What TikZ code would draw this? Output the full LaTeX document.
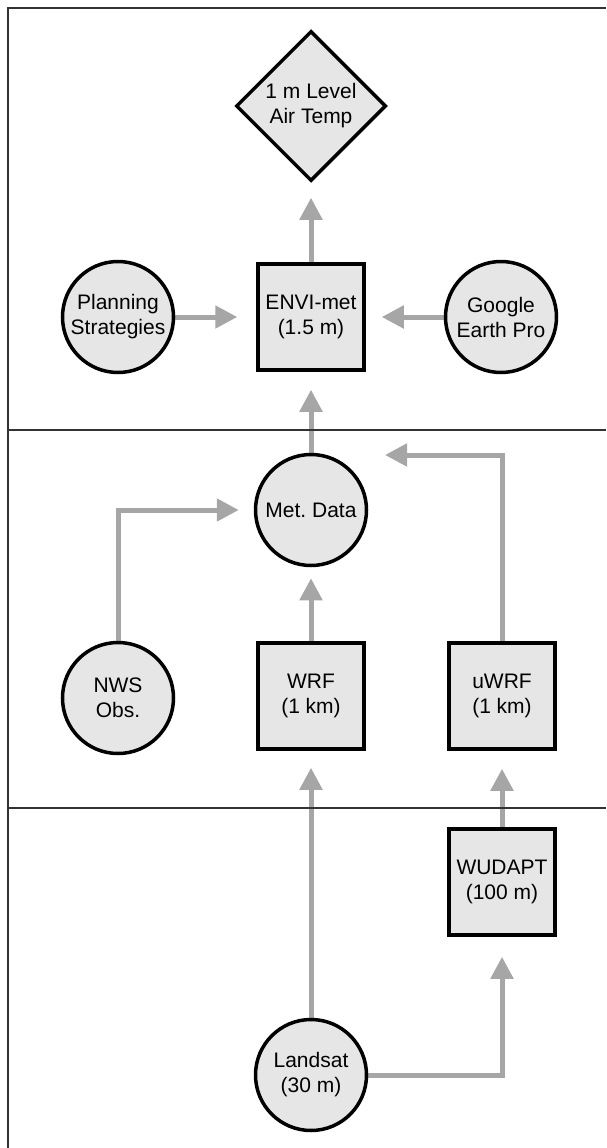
\documentclass[tikz,border=0pt]{standalone}
\usepackage{fontspec}
\setmainfont{Liberation Sans}
\usetikzlibrary{shapes.geometric,arrows.meta,backgrounds}
\definecolor{nodefill}{HTML}{E6E6E6}
\definecolor{arrgray}{HTML}{A6A6A6}
\definecolor{framecol}{HTML}{333333}
\frenchspacing
\begin{document}
\begin{tikzpicture}[x=1pt,y=1pt,
  base/.style={draw=black, line width=3.5pt, fill=nodefill, align=center,
    font=\fontsize{21}{25}\selectfont, inner sep=0pt, text=black},
  roundnode/.style={base, circle, minimum size=111pt},
  boxnode/.style={base, rectangle, minimum width=106pt, minimum height=106pt},
  decision/.style={base, diamond, minimum width=150pt, minimum height=150pt, aspect=1},
  arr/.style={draw=arrgray, line width=5pt, -{Triangle[length=22pt,width=22pt]}},
  frameline/.style={draw=framecol, line width=2pt},
  divline/.style={draw=framecol, line width=1.5pt}
]
\useasboundingbox (0,0) rectangle (606,-1148);
% frame and dividers
\draw[frameline] (8,-1148) -- (8,-8) -- (606,-8);
\draw[divline] (8,-430) -- (606,-430);
\draw[divline] (8,-808) -- (606,-808);

% nodes
\node[decision] (temp) at (311,-106) {1 m Level\\Air Temp};
\node[boxnode] (envi) at (311,-317) {ENVI-met\\(1.5 m)};
\node[roundnode] (plan) at (118,-317) {Planning\\Strategies};
\node[roundnode] (google) at (501,-317) {Google\\Earth Pro};
\node[roundnode] (met) at (311,-510) {Met.\ Data};
\node[roundnode] (nws) at (118,-698) {NWS\\Obs.};
\node[boxnode] (wrf) at (311,-696) {WRF\\(1 km)};
\node[boxnode] (uwrf) at (502,-696) {uWRF\\(1 km)};
\node[boxnode] (wudapt) at (502,-882) {WUDAPT\\(100 m)};
\node[roundnode] (landsat) at (311,-1075) {Landsat\\(30 m)};
\coordinate (metin) at (367,-455);

% connectors
\begin{scope}[on background layer]
\draw[arr, shorten >=15pt] (envi.north) -- (temp.south);
\draw[arr, shorten >=19pt] (plan.east) -- (envi.west);
\draw[arr, shorten >=16pt] (google.west) -- (envi.east);
\draw[arr, shorten >=18pt] (met.north) -- (envi.south);
\draw[arr, shorten >=15pt] (nws.north) |- (met.west);
\draw[arr, shorten >=11pt] (wrf.north) -- (met.south);
\draw[arr, shorten >=18pt] (uwrf.north) |- (metin);
\draw[arr, shorten >=17pt] (landsat.north) -- (wrf.south);
\draw[arr, shorten >=20pt] (landsat.east) -| (wudapt.south);
\draw[arr, shorten >=18pt] (wudapt.north) -- (uwrf.south);
\end{scope}
\end{tikzpicture}
\end{document}
